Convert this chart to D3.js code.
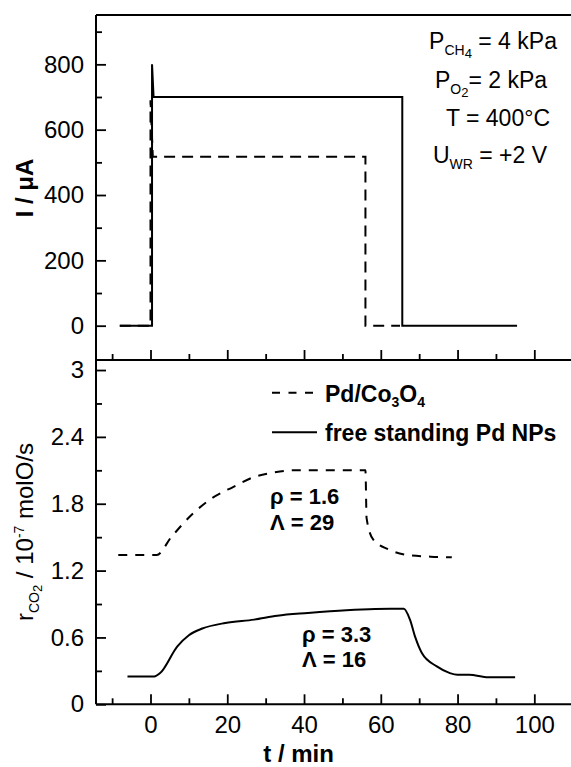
<!DOCTYPE html>
<html lang="en">
<head>
<meta charset="UTF-8">
<title>Current and CO2 rate vs time</title>
<script src="https://d3js.org/d3.v7.min.js"></script>
<style>
  body { margin: 0; background: #fff; }
  svg text { font-family: "Liberation Sans", Arial, sans-serif; fill: #000; }
</style>
</head>
<body>
<svg id="chart" width="571" height="767"></svg>
<script>
// t / min against I / uA (top panel)
var currentPdCo = [[-8,0],[0,0],[0,690],[0.6,517],[56,517],[56,0],[65,0]];
var currentPdNP = [[-8,0],[0.4,0],[0.4,800],[0.8,700],[65.6,700],[65.6,0],[95.5,0]];

// t / min against rCO2 / 1e-7 molO/s (bottom panel)
var ratePdCo = [[-8.4,1.34],[1.6,1.34],[5.4,1.5],[11,1.71],[16,1.85],[21.5,1.95],[27,2.04],
                [32,2.08],[37,2.1],[56,2.1],[56.3,1.67],[58,1.48],[62,1.39],[67,1.34],[73,1.325],[78.5,1.32]];
var ratePdNP = [[-6,0.25],[1,0.25],[2.5,0.28],[7,0.52],[10,0.62],[13.5,0.68],[19.5,0.73],[27,0.76],
                [33,0.795],[41,0.82],[51,0.845],[58.5,0.855],[66,0.857],[67.6,0.76],[69,0.6],[70.7,0.46],
                [74.6,0.34],[78,0.28],[80,0.265],[83,0.265],[88,0.242],[95,0.242]];

var xMajor = [0,20,40,60,80,100];
var xMinor = [-10,10,30,50,70,90,110];
var iMajor = [0,200,400,600,800];
var iMinor = [100,300,500,700,900];
var rMajor = [0,0.6,1.2,1.8,2.4,3];
var rMinor = [0.3,0.9,1.5,2.1,2.7];

var svg = d3.select("#chart");
var left = 96, right = 572.7, top1 = 15, mid = 360, bottom = 704.3;

var x = d3.scaleLinear().domain([-14.2, 110]).range([left, right]);
var yI = d3.scaleLinear().domain([-105, 951]).range([mid, top1]);
var yR = d3.scaleLinear().domain([0, 3.09]).range([bottom, mid]);

function axisGroup(axis, tx, ty) {
  var g = svg.append("g").attr("transform", "translate(" + tx + "," + ty + ")").call(axis);
  g.select(".domain").remove();
  g.selectAll("line").attr("stroke", "#000").attr("stroke-width", 1.8);
  g.selectAll("text").style("font-size", "24px").attr("fill", "#000");
  return g;
}

// top panel axes
axisGroup(d3.axisLeft(yI).tickValues(iMajor).tickSize(-10).tickPadding(12), left, 0);
axisGroup(d3.axisLeft(yI).tickValues(iMinor).tickSize(-6).tickFormat(""), left, 0);
axisGroup(d3.axisBottom(x).tickValues(xMajor).tickSize(-10).tickFormat(""), 0, mid);
axisGroup(d3.axisBottom(x).tickValues(xMinor).tickSize(-6).tickFormat(""), 0, mid);

// bottom panel axes
axisGroup(d3.axisLeft(yR).tickValues(rMajor).tickSize(-10).tickPadding(12).tickFormat(function(d){ return String(d); }), left, 0);
axisGroup(d3.axisLeft(yR).tickValues(rMinor).tickSize(-6).tickFormat(""), left, 0);
axisGroup(d3.axisBottom(x).tickValues(xMajor).tickSize(-10).tickPadding(12), 0, bottom);
axisGroup(d3.axisBottom(x).tickValues(xMinor).tickSize(-6).tickFormat(""), 0, bottom);

// frame lines
var frame = svg.append("g").attr("stroke", "#000").attr("stroke-width", 2);
frame.append("line").attr("x1", left).attr("x2", left).attr("y1", top1).attr("y2", bottom);
frame.append("line").attr("x1", left).attr("x2", 571).attr("y1", top1).attr("y2", top1);
frame.append("line").attr("x1", left).attr("x2", 571).attr("y1", mid).attr("y2", mid);
frame.append("line").attr("x1", left).attr("x2", 571).attr("y1", bottom).attr("y2", bottom);

// data lines
var lineI = d3.line().x(function(d){ return x(d[0]); }).y(function(d){ return yI(d[1]); });
var lineR = d3.line().curve(d3.curveMonotoneX).x(function(d){ return x(d[0]); }).y(function(d){ return yR(d[1]); });

svg.append("path").datum(currentPdNP).attr("d", lineI)
  .attr("fill", "none").attr("stroke", "#000").attr("stroke-width", 2);
svg.append("path").datum(currentPdCo).attr("d", lineI)
  .attr("fill", "none").attr("stroke", "#000").attr("stroke-width", 2).attr("stroke-dasharray", "11,7");
svg.append("path").datum(ratePdNP).attr("d", lineR)
  .attr("fill", "none").attr("stroke", "#000").attr("stroke-width", 2);
svg.append("path").datum(ratePdCo).attr("d", lineR)
  .attr("fill", "none").attr("stroke", "#000").attr("stroke-width", 2).attr("stroke-dasharray", "9,8");

// conditions text, top right
var cond = svg.append("g").attr("text-anchor", "middle").style("font-size", "23px");
var t1 = cond.append("text").attr("x", 493).attr("y", 49);
t1.append("tspan").text("P");
t1.append("tspan").attr("dy", 6).style("font-size", "14px").text("CH");
t1.append("tspan").attr("dy", 3).style("font-size", "13px").text("4");
t1.append("tspan").attr("dy", -9).text(" = 4 kPa");
var t2 = cond.append("text").attr("x", 491).attr("y", 88);
t2.append("tspan").text("P");
t2.append("tspan").attr("dy", 6).style("font-size", "14px").text("O");
t2.append("tspan").attr("dy", 3).style("font-size", "13px").text("2");
t2.append("tspan").attr("dy", -9).text("= 2 kPa");
cond.append("text").attr("x", 498).attr("y", 126).text("T = 400°C");
var t4 = cond.append("text").attr("x", 490).attr("y", 163);
t4.append("tspan").text("U");
t4.append("tspan").attr("dy", 6).style("font-size", "14px").text("WR");
t4.append("tspan").attr("dy", -6).text(" = +2 V");

// legend
var leg = svg.append("g");
leg.append("line").attr("x1", 272).attr("x2", 317).attr("y1", 392.7).attr("y2", 392.7)
  .attr("stroke", "#000").attr("stroke-width", 2).attr("stroke-dasharray", "8,8.5");
leg.append("line").attr("x1", 272).attr("x2", 317).attr("y1", 432.3).attr("y2", 432.3)
  .attr("stroke", "#000").attr("stroke-width", 2);
var l1 = leg.append("text").attr("x", 325).attr("y", 401.7).style("font-size", "23px").style("font-weight", "bold");
l1.append("tspan").text("Pd/Co");
l1.append("tspan").attr("dy", 5).style("font-size", "14px").text("3");
l1.append("tspan").attr("dy", -5).text("O");
l1.append("tspan").attr("dy", 5).style("font-size", "14px").text("4");
leg.append("text").attr("x", 325).attr("y", 441).style("font-size", "23px").style("font-weight", "bold")
  .text("free standing Pd NPs");

// annotations
var ann = svg.append("g").style("font-size", "22px").style("font-weight", "bold");
ann.append("text").attr("x", 270).attr("y", 504).text("ρ = 1.6");
ann.append("text").attr("x", 270).attr("y", 530).text("Λ = 29");
ann.append("text").attr("x", 302).attr("y", 641.7).text("ρ = 3.3");
ann.append("text").attr("x", 302).attr("y", 667).text("Λ = 16");

// axis titles
svg.append("text").attr("transform", "translate(33,188) rotate(-90)").attr("text-anchor", "middle")
  .style("font-size", "24px").style("font-weight", "bold").text("I / μA");
var yt = svg.append("text").attr("transform", "translate(33,532) rotate(-90)").attr("text-anchor", "middle")
  .style("font-size", "24px");
yt.append("tspan").text("r");
yt.append("tspan").attr("dy", 6).style("font-size", "14px").text("CO");
yt.append("tspan").attr("dy", 3).style("font-size", "13px").text("2");
yt.append("tspan").attr("dy", -9).text(" / 10");
yt.append("tspan").attr("dy", -9).style("font-size", "14px").text("-7");
yt.append("tspan").attr("dy", 9).text(" molO/s");
svg.append("text").attr("x", 298.6).attr("y", 762).attr("text-anchor", "middle")
  .style("font-size", "24px").style("font-weight", "bold").text("t / min");
</script>
</body>
</html>
